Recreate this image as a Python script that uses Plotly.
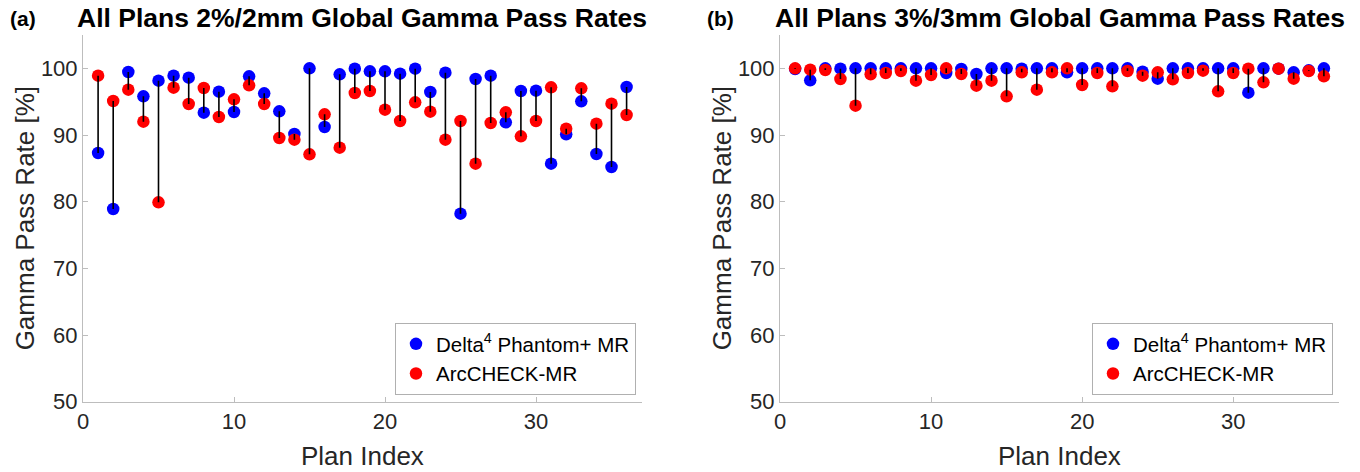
import plotly.graph_objects as go

plan_index = list(range(1, 37))

delta_22 = [87.3, 78.9, 99.45, 95.8, 98.15, 98.9, 98.6, 93.35, 96.5, 93.45, 98.8, 96.25,
            93.55, 90.15, 100.0, 91.2, 99.1, 99.95, 99.55, 99.55, 99.2, 99.95, 96.45, 99.35,
            78.2, 98.4, 98.9, 91.9, 96.6, 96.65, 85.7, 90.1, 95.05, 87.15, 85.2, 97.2]
arc_22 = [98.9, 95.1, 96.8, 92.0, 79.9, 97.1, 94.65, 97.05, 92.7, 95.35, 97.45, 94.65,
          89.55, 89.3, 87.1, 93.1, 88.1, 96.3, 96.6, 93.8, 92.1, 94.9, 93.5, 89.3,
          92.1, 85.7, 91.8, 93.4, 89.8, 92.1, 97.15, 90.95, 97.0, 91.7, 94.7, 93.0]

delta_33 = [99.9, 98.2, 100.0, 99.95, 100.0, 100.0, 100.0, 100.0, 100.0, 100.0, 99.3, 99.9,
            99.15, 100.0, 100.0, 99.95, 100.0, 100.0, 99.4, 100.0, 100.0, 100.0, 100.0, 99.5,
            98.45, 100.0, 100.0, 100.0, 100.0, 100.0, 96.35, 100.0, 99.95, 99.4, 99.7, 100.0]
arc_33 = [100.0, 99.8, 99.75, 98.4, 94.4, 99.1, 99.3, 99.6, 98.15, 99.0, 100.0, 99.15,
          97.4, 98.15, 95.8, 99.4, 96.8, 99.4, 100.0, 97.5, 99.3, 97.3, 99.6, 98.9,
          99.4, 98.35, 99.3, 99.65, 96.55, 99.3, 99.95, 97.9, 99.95, 98.45, 99.6, 98.8]

titles = ["All Plans 2%/2mm Global Gamma Pass Rates", "All Plans 3%/3mm Global Gamma Pass Rates"]
panel_labels = ["(a)", "(b)"]
series_names = ["Delta<sup>4</sup> Phantom+ MR", "ArcCHECK-MR"]
x_ticks = [0, 10, 20, 30]
y_ticks = [50, 60, 70, 80, 90, 100]

W, H = 1360, 472
FONT = "Arial, Liberation Sans, sans-serif"
BLUE = "rgb(0,0,255)"
RED = "rgb(255,0,0)"
AXC = "#bdbdbd"
TXT = "#262626"

fig = go.Figure()

panels = [(delta_22, arc_22, "x", "y", "legend"), (delta_33, arc_33, "x2", "y2", "legend2")]
for d, a, xa, ya, lg in panels:
    fig.add_trace(go.Scatter(x=plan_index, y=d, mode="markers", name=series_names[0],
                             marker=dict(color=BLUE, size=12.5, line=dict(width=0)),
                             xaxis=xa, yaxis=ya, legend=lg))
    fig.add_trace(go.Scatter(x=plan_index, y=a, mode="markers", name=series_names[1],
                             marker=dict(color=RED, size=12.5, line=dict(width=0)),
                             xaxis=xa, yaxis=ya, legend=lg))
    lx, ly = [], []
    for i, dv, av in zip(plan_index, d, a):
        lx += [i, i, None]
        ly += [dv, av, None]
    fig.add_trace(go.Scatter(x=lx, y=ly, mode="lines", line=dict(color="black", width=1.6),
                             showlegend=False, hoverinfo="skip", xaxis=xa, yaxis=ya))

ydom = [(H - 401.7) / H, (H - 35) / H]
xdoms = [[83 / W, 641.7 / W], [780 / W, 1339 / W]]

axis_common = dict(showline=True, linecolor=AXC, linewidth=1, ticks="inside", ticklen=5,
                   tickcolor=AXC, showgrid=False, zeroline=False, automargin=False,
                   tickfont=dict(family=FONT, size=22, color=TXT))

layout = dict(
    width=W, height=H, margin=dict(l=0, r=0, t=0, b=0, autoexpand=False),
    paper_bgcolor="white", plot_bgcolor="white",
    showlegend=True,
    xaxis=dict(domain=xdoms[0], range=[0, 37], tickvals=x_ticks, anchor="y", **axis_common),
    yaxis=dict(domain=ydom, range=[50, 105], tickvals=y_ticks, anchor="x", **axis_common),
    xaxis2=dict(domain=xdoms[1], range=[0, 37], tickvals=x_ticks, anchor="y2", **axis_common),
    yaxis2=dict(domain=ydom, range=[50, 105], tickvals=y_ticks, anchor="x2", **axis_common),
)
legend_common = dict(bgcolor="white", bordercolor="#b0b0b0", borderwidth=1,
                     font=dict(family=FONT, size=20.5, color="black"),
                     xanchor="right", yanchor="bottom", y=(H - 395) / H,
                     tracegroupgap=0, itemwidth=30)
layout["legend"] = dict(x=636 / W, **legend_common)
layout["legend2"] = dict(x=1333 / W, **legend_common)
fig.update_layout(**layout)

annotations = []
centers = [(xdoms[0][0] + xdoms[0][1]) / 2, (xdoms[1][0] + xdoms[1][1]) / 2]
label_x = [8 / W, 705 / W]
yt_x = [25 / W, 722 / W]
for k in range(2):
    annotations.append(dict(text="<b>" + titles[k] + "</b>", x=centers[k], y=(H - 18) / H,
                            xref="paper", yref="paper", showarrow=False,
                            xanchor="center", yanchor="middle",
                            font=dict(family=FONT, size=26.5, color="black")))
    annotations.append(dict(text="<b>" + panel_labels[k] + "</b>", x=label_x[k], y=(H - 18) / H,
                            xref="paper", yref="paper", showarrow=False,
                            xanchor="left", yanchor="middle",
                            font=dict(family=FONT, size=21, color="black")))
    annotations.append(dict(text="Plan Index", x=centers[k], y=(H - 456) / H,
                            xref="paper", yref="paper", showarrow=False,
                            xanchor="center", yanchor="middle",
                            font=dict(family=FONT, size=26, color=TXT)))
    annotations.append(dict(text="Gamma Pass Rate [%]", x=yt_x[k], y=(ydom[0] + ydom[1]) / 2,
                            xref="paper", yref="paper", showarrow=False, textangle=-90,
                            xanchor="center", yanchor="middle",
                            font=dict(family=FONT, size=26, color=TXT)))
fig.update_layout(annotations=annotations)

fig.write_html("out.html",
               config={"displayModeBar": False, "staticPlot": True},
               post_script="document.body.style.margin='0';document.body.style.overflow='hidden';")
